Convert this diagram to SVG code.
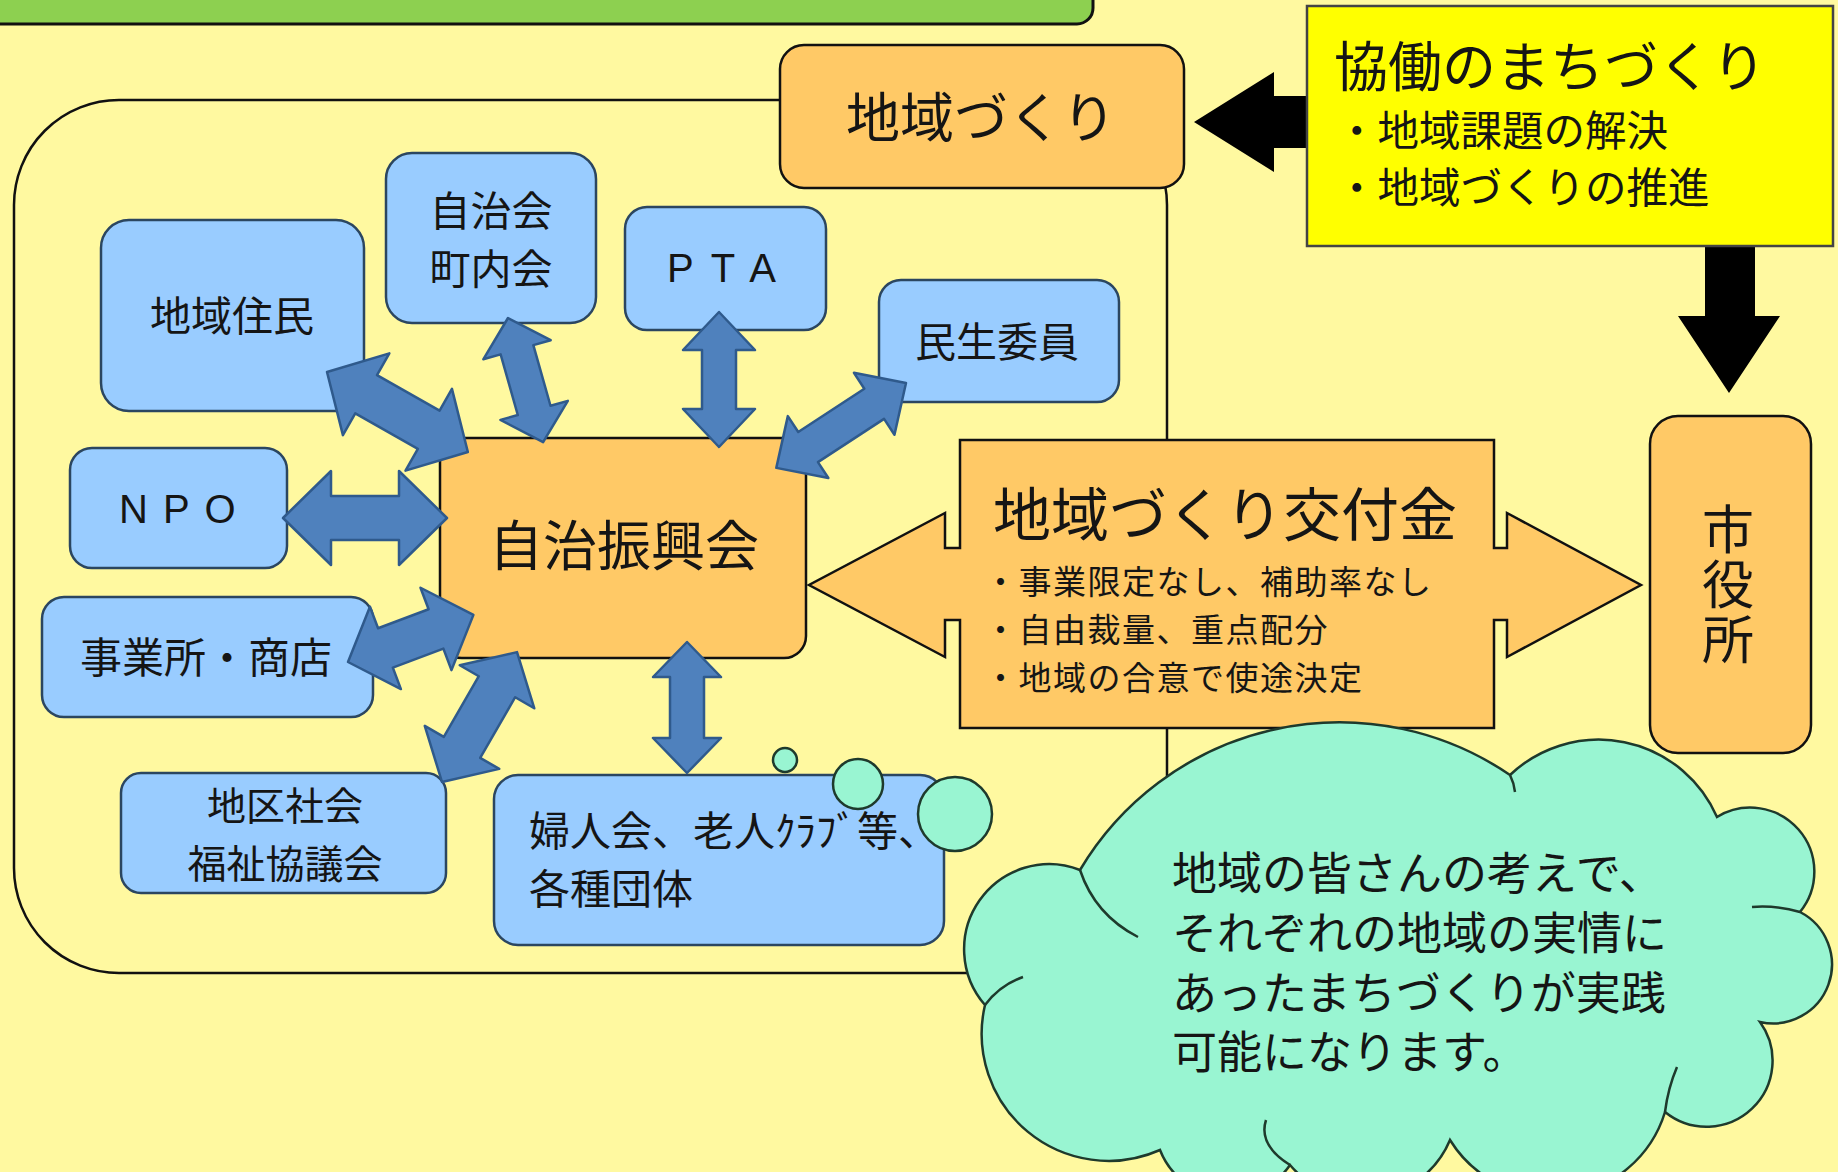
<svg xmlns="http://www.w3.org/2000/svg" width="1838" height="1172" viewBox="0 0 1838 1172">
<style>
.t{font-family:"Noto Sans CJK JP","Noto Sans CJK SC",sans-serif;fill:#151515}
.lat{font-family:"Liberation Sans",Arial,sans-serif;fill:#151515}
.blue{fill:#99CCFF;stroke:#2B4660;stroke-width:2.5}
.orange{fill:#FFC966;stroke:#111;stroke-width:2.5}
.arr{fill:#4F81BD;stroke:#2F5A8C;stroke-width:2.5;stroke-linejoin:round}
.blk{fill:#000}
.mint{fill:#99F5D2;stroke:#1E3A2C;stroke-width:2.5}
</style>
<rect x="0" y="0" width="1838" height="1172" fill="#FFF9A0"/>

<g id="banner">
<rect x="-20" y="-60" width="1113" height="84" rx="16" fill="#8DD050" stroke="#111" stroke-width="3"/>
</g>

<g id="container">
<rect x="14" y="100" width="1153" height="873" rx="105" fill="none" stroke="#111" stroke-width="2.5"/>
</g>

<g id="connectors">
<polygon class="blk" points="1194,122 1274,72 1274,96 1310,96 1310,148 1274,148 1274,172"/>
<polygon class="blk" points="1705,244 1755,244 1755,316 1780,316 1729,393 1678,316 1705,316"/>
</g>

<g id="kyodo">
<rect x="1307" y="6" width="526" height="240" fill="#FFFF00" stroke="#444" stroke-width="2.5"/>
<text class="t" x="1334" y="87" font-size="54">協働のまちづくり</text>
<text class="t" x="1336" y="146" font-size="41.5">・地域課題の解決</text>
<text class="t" x="1336" y="203" font-size="41.5">・地域づくりの推進</text>
</g>

<g id="chiikizukuri">
<rect class="orange" x="780" y="45" width="404" height="143" rx="24"/>
<text class="t" x="981" y="138" font-size="54" text-anchor="middle">地域づくり</text>
</g>

<g id="shiyakusho">
<rect class="orange" x="1650" y="416" width="161" height="337" rx="28"/>
<text class="t" x="1728" y="503" font-size="52" writing-mode="vertical-rl" letter-spacing="3">市役所</text>
</g>

<g id="kofukin">
<path class="orange" d="M960,440 L1494,440 L1494,548 L1507,548 L1507,513 L1641,585 L1507,657 L1507,620 L1494,620 L1494,728 L960,728 L960,620 L945,620 L945,657 L809,585 L945,513 L945,548 L960,548 Z"/>
<text class="t" x="993" y="536" font-size="58">地域づくり交付金</text>
<text class="t" x="984" y="594" font-size="33" letter-spacing="1.5">・事業限定なし、補助率なし</text>
<text class="t" x="984" y="642" font-size="33" letter-spacing="1.5">・自由裁量、重点配分</text>
<text class="t" x="984" y="690" font-size="33" letter-spacing="1.5">・地域の合意で使途決定</text>
</g>

<g id="jichishinkokai">
<rect class="orange" x="440" y="438" width="366" height="220" rx="22"/>
<text class="t" x="624" y="566" font-size="54" text-anchor="middle">自治振興会</text>
</g>

<g id="chiikijumin">
<rect class="blue" x="101" y="220" width="263" height="191" rx="28"/>
<text class="t" x="232" y="331" font-size="41" text-anchor="middle">地域住民</text>
</g>

<g id="jichikai">
<rect class="blue" x="386" y="153" width="210" height="170" rx="26"/>
<text class="t" x="491" y="226" font-size="41" text-anchor="middle">自治会</text>
<text class="t" x="491" y="284" font-size="41" text-anchor="middle">町内会</text>
</g>

<g id="pta">
<rect class="blue" x="625" y="207" width="201" height="123" rx="22"/>
<text class="lat" x="667" y="282" font-size="40" letter-spacing="17">PTA</text>
</g>

<g id="minsei">
<rect class="blue" x="879" y="280" width="240" height="122" rx="22"/>
<text class="t" x="997" y="357" font-size="41" text-anchor="middle">民生委員</text>
</g>

<g id="npo">
<rect class="blue" x="70" y="448" width="217" height="120" rx="22"/>
<text class="lat" x="119" y="523" font-size="40" letter-spacing="15">NPO</text>
</g>

<g id="jigyosho">
<rect class="blue" x="42" y="597" width="331" height="120" rx="22"/>
<text class="t" x="206" y="673" font-size="42" text-anchor="middle">事業所・商店</text>
</g>

<g id="shakyo">
<rect class="blue" x="121" y="773" width="325" height="120" rx="20"/>
<text class="t" x="285" y="820" font-size="39" text-anchor="middle">地区社会</text>
<text class="t" x="285" y="878" font-size="39" text-anchor="middle">福祉協議会</text>
</g>

<g id="fujinkai">
<rect class="blue" x="494" y="775" width="450" height="170" rx="24"/>
<text class="t" x="529" y="846" font-size="41">婦人会、老人ｸﾗﾌﾞ等、</text>
<text class="t" x="529" y="904" font-size="41">各種団体</text>
</g>

<g id="blue-arrows">
<g transform="translate(327,372) rotate(29.6)"><polygon class="arr" points="0,0 45,-47 45,-22 117,-22 117,-47 162,0 117,47 117,22 45,22 45,47"/></g>
<g transform="translate(508,318) rotate(74.2)"><polygon class="arr" points="0,0 33,-35 33,-17 96,-17 96,-35 129,0 96,35 96,17 33,17 33,35"/></g>
<g transform="translate(719,312) rotate(90)"><polygon class="arr" points="0,0 38,-36 38,-17 97,-17 97,-36 135,0 97,36 97,17 38,17 38,36"/></g>
<g transform="translate(906,383) rotate(146.8)"><polygon class="arr" points="0,0 38,-37 38,-18 117,-18 117,-37 155,0 117,37 117,18 38,18 38,37"/></g>
<g transform="translate(283,518)"><polygon class="arr" points="0,0 48,-47 48,-22 116,-22 116,-47 164,0 116,47 116,22 48,22 48,47"/></g>
<g transform="translate(348,662) rotate(-20.6)"><polygon class="arr" points="0,0 40,-44 40,-21 94,-21 94,-44 134,0 94,44 94,21 40,21 40,44"/></g>
<g transform="translate(442,782) rotate(-60)"><polygon class="arr" points="0,0 40,-43 40,-21 110,-21 110,-43 150,0 110,43 110,21 40,21 40,43"/></g>
<g transform="translate(687,642) rotate(90)"><polygon class="arr" points="0,0 35,-34 35,-17 96,-17 96,-34 131,0 96,34 96,17 35,17 35,34"/></g>
</g>

<g id="cloud">
<circle class="mint" cx="785" cy="760" r="12"/>
<circle class="mint" cx="858" cy="784" r="25"/>
<circle class="mint" cx="955" cy="814" r="37"/>
<path class="mint" d="M1080,870 A302,302 0 0 1 1510,775 A129,129 0 0 1 1717,817 A64,64 0 0 1 1800,912 A59,59 0 0 1 1760,1022 A66,66 0 0 1 1665,1112 A119,119 0 0 1 1450,1140 A95,95 0 0 1 1290,1165 A74,74 0 0 1 1160,1150 A127,127 0 0 1 985,1005 A85,85 0 0 1 1080,870 Z"/>
<path d="M1080,870 Q1095,915 1138,937 M1510,775 Q1514,783 1515,792 M1800,912 Q1775,905 1752,907 M1665,1112 Q1668,1088 1677,1067 M985,1005 Q1000,985 1023,977 M1290,1165 Q1258,1145 1266,1120" fill="none" stroke="#1E3A2C" stroke-width="2.5"/>
<text class="t" x="1172" y="890" font-size="45">地域の皆さんの考えで、</text>
<text class="t" x="1172" y="950" font-size="45">それぞれの地域の実情に</text>
<text class="t" x="1172" y="1010" font-size="45">あったまちづくりが実践</text>
<text class="t" x="1172" y="1069" font-size="45">可能になります。</text>
</g>
</svg>
